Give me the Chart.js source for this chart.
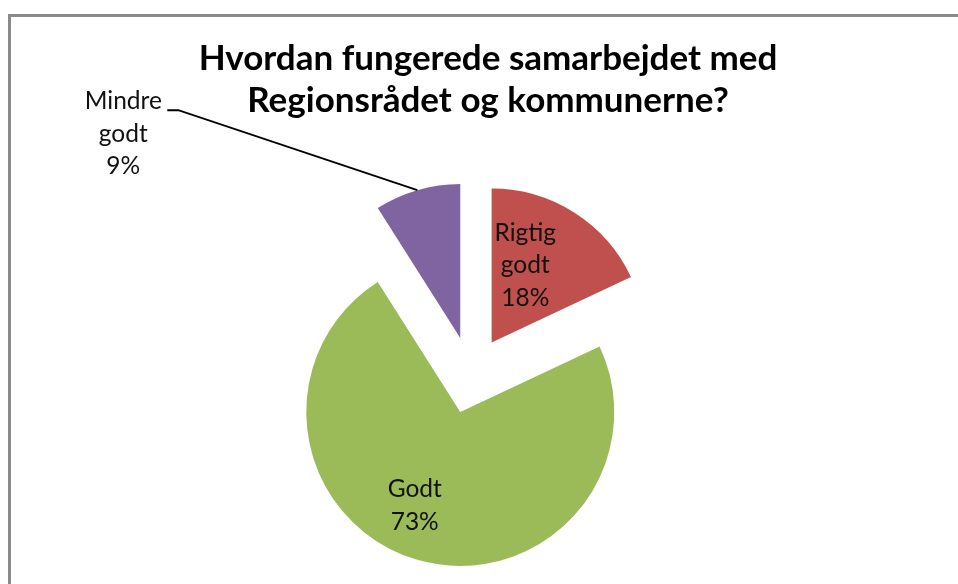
<!DOCTYPE html>
<html>
<head>
<meta charset="utf-8">
<script src="https://cdn.jsdelivr.net/npm/chart.js@4/dist/chart.umd.min.js"></script>
<style>
  html, body { margin: 0; padding: 0; background: #fff; }
  #wrap { width: 958px; height: 584px; position: relative; }
</style>
</head>
<body>
<div id="wrap"><canvas id="pieChart" width="958" height="584"></canvas></div>
<script>
// DATA
const titleLines = ["Hvordan fungerede samarbejdet med", "Regionsrådet og kommunerne?"];
const categories = ["Rigtig godt", "Godt", "Mindre godt"];
const shares = [18, 73, 9];
const sliceColors = ["#C0504D", "#9BBB59", "#8064A2"];

// STYLE
const EXPLODE = 38.5;      // px each slice is pulled out from the centre
const LINE_H = 32.5;
const labelFont = "24.5px Lato";
const titleFont = "bold 35px Lato";
// inside labels: polar position from slice tip (fraction of radius, turn in degrees from bisector)
const labelPos = [
    { r: 0.50, turn: -6.5 },
    { r: 0.724, turn: 7.9 },
    null
];

// pulls every arc out along its bisector, then lets the arc element draw itself
const explodePlugin = {
    id: "explode",
    beforeDatasetDraw(chart, args) {
        const ctx = chart.ctx;
        args.meta.data.forEach(arc => {
            const mid = (arc.startAngle + arc.endAngle) / 2;
            ctx.save();
            ctx.translate(Math.cos(mid) * EXPLODE, Math.sin(mid) * EXPLODE);
            arc.draw(ctx, chart.chartArea);
            ctx.restore();
        });
        return false;
    }
};

// frame + title
const framePlugin = {
    id: "frame",
    beforeDraw(chart) {
        const ctx = chart.ctx;
        ctx.save();
        ctx.strokeStyle = "#8a8a8a";
        ctx.lineWidth = 3;
        ctx.strokeRect(9.5, 15.5, 1200, 1200);
        ctx.restore();
    },
    afterDraw(chart) {
        const ctx = chart.ctx;
        ctx.save();
        ctx.font = titleFont;
        ctx.fillStyle = "#000";
        ctx.textAlign = "center";
        ctx.textBaseline = "alphabetic";
        titleLines.forEach((t, i) => ctx.fillText(t, 488, 69.5 + i * 42));
        ctx.restore();
    }
};

// data labels: name words + percent, stacked
const labelPlugin = {
    id: "sliceLabels",
    afterDatasetsDraw(chart) {
        const ctx = chart.ctx;
        const meta = chart.getDatasetMeta(0);
        ctx.save();
        ctx.font = labelFont;
        ctx.fillStyle = "#111";
        ctx.textAlign = "center";
        ctx.textBaseline = "alphabetic";

        meta.data.forEach((arc, i) => {
            const mid = (arc.startAngle + arc.endAngle) / 2;
            const tipX = arc.x + Math.cos(mid) * EXPLODE;
            const tipY = arc.y + Math.sin(mid) * EXPLODE;
            const R = arc.outerRadius;
            const lines = categories[i].split(" ").concat([shares[i] + "%"]);
            let ax, ay;

            if (labelPos[i]) {
                const a = mid + labelPos[i].turn * Math.PI / 180;
                ax = tipX + Math.cos(a) * R * labelPos[i].r;
                ay = tipY + Math.sin(a) * R * labelPos[i].r;
            } else {
                // outside label with leader line
                const ex = tipX + Math.cos(mid) * R;
                const ey = tipY + Math.sin(mid) * R;
                const elbowX = ex - 239, elbowY = ey - 80;
                ctx.strokeStyle = "#000";
                ctx.lineWidth = 2;
                ctx.beginPath();
                ctx.moveTo(ex, ey);
                ctx.lineTo(elbowX, elbowY);
                ctx.lineTo(elbowX - 11, elbowY);
                ctx.stroke();
                ax = elbowX - 55;
                ay = elbowY - 1 + LINE_H;
            }
            lines.forEach((t, k) => {
                ctx.fillText(t, ax, ay + (k - (lines.length - 1) / 2) * LINE_H);
            });
        });
        ctx.restore();
    }
};

new Chart(document.getElementById("pieChart"), {
    type: "pie",
    data: {
        labels: categories,
        datasets: [{
            data: shares,
            backgroundColor: sliceColors,
            borderWidth: 0
        }]
    },
    options: {
        responsive: false,
        animation: false,
        radius: 154,
        layout: { padding: { top: 166, bottom: 0, left: 0, right: 16 } },
        plugins: {
            legend: { display: false },
            tooltip: { enabled: false },
            title: { display: false }
        }
    },
    plugins: [framePlugin, explodePlugin, labelPlugin]
});
</script>
</body>
</html>
